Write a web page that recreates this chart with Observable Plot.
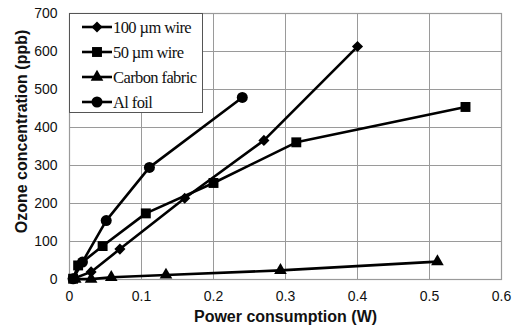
<!DOCTYPE html>
<html>
<head>
<meta charset="utf-8">
<script src="https://cdn.jsdelivr.net/npm/d3@7"></script>
<script src="https://cdn.jsdelivr.net/npm/@observablehq/plot@0.6"></script>
<style>
  html, body { margin: 0; padding: 0; background: #fff; }
  #wrap { position: relative; width: 521px; height: 331px; }
  #legend { position: absolute; left: 69px; top: 13px; }
</style>
</head>
<body>
<div id="wrap"></div>
<script>
// ---- data ----
const seriesNames = ["100 \u00b5m wire", "50 \u00b5m wire", "Carbon fabric", "Al foil"];
const seriesSymbols = ["diamond2", "square", "triangle", "circle"];

const wire100X = [0.005, 0.03, 0.07, 0.16, 0.27, 0.40];
const wire100Y = [2, 20, 80, 214, 366, 613];

const wire50X = [0.005, 0.012, 0.046, 0.106, 0.20, 0.315, 0.55];
const wire50Y = [2, 37, 88, 174, 254, 361, 454];

const carbonX = [0.008, 0.03, 0.058, 0.134, 0.293, 0.511];
const carbonY = [1, 1, 6, 12, 24, 47];

const alFoilX = [0.005, 0.018, 0.051, 0.111, 0.24];
const alFoilY = [2, 46, 155, 295, 479];

const xTicks = [0, 0.1, 0.2, 0.3, 0.4, 0.5, 0.6];
const xTickLabels = ["0", "0.1", "0.2", "0.3", "0.4", "0.5", "0.6"];
const yTicks = [0, 100, 200, 300, 400, 500, 600, 700];
const yTickLabels = ["0", "100", "200", "300", "400", "500", "600", "700"];

const xLabel = "Power consumption (W)";
const yLabel = "Ozone concentration (ppb)";

// ---- build table ----
const allX = [wire100X, wire50X, carbonX, alFoilX];
const allY = [wire100Y, wire50Y, carbonY, alFoilY];
const rows = [];
seriesNames.forEach((s, i) => {
  allX[i].forEach((x, j) => rows.push({series: s, sym: seriesSymbols[i], x, y: allY[i][j]}));
});

const symR = {"diamond2": 5.0, "square": 5.6, "triangle": 4.7, "circle": 5.5};
const gridColor = "#9a9a9a";

const chart = Plot.plot({
  width: 521,
  height: 331,
  marginLeft: 69,
  marginRight: 20,
  marginTop: 13,
  marginBottom: 52,
  style: {fontFamily: "'Liberation Sans', Arial, sans-serif", fontSize: "14px", color: "#111", background: "#fff"},
  x: {domain: [0, 0.6]},
  y: {domain: [0, 700]},
  symbol: {domain: seriesSymbols, range: seriesSymbols},
  marks: [
    Plot.gridX(xTicks, {stroke: gridColor, strokeOpacity: 1, strokeWidth: 1}),
    Plot.gridY(yTicks, {stroke: gridColor, strokeOpacity: 1, strokeWidth: 1}),
    Plot.frame({stroke: gridColor, strokeWidth: 1.2}),
    Plot.axisX({ticks: xTicks, tickSize: 0, tickPadding: 12, tickFormat: (d, i) => xTickLabels[i], label: null}),
    Plot.axisY({ticks: yTicks, tickSize: 0, tickPadding: 12, tickFormat: (d, i) => yTickLabels[i], label: null}),
    Plot.line(rows, {x: "x", y: "y", z: "series", stroke: "#000", strokeWidth: 2.6}),
    ...seriesSymbols.map(sym => Plot.dot(rows.filter(r => r.sym === sym), {x: "x", y: "y", symbol: "sym", fill: "#000", stroke: "none", r: symR[sym]})),
    Plot.text([xLabel], {frameAnchor: "bottom", textAnchor: "middle", dy: 42, fontWeight: "bold", fontSize: 16}),
    Plot.text([yLabel], {frameAnchor: "left", textAnchor: "middle", dx: -48, dy: -15, rotate: -90, fontWeight: "bold", fontSize: 16})
  ]
});
document.getElementById("wrap").appendChild(chart);

// ---- legend (inside plot, top-left) ----
const lw = 134, lh = 100;
const leg = d3.select("#wrap").append("svg")
  .attr("id", "legend").attr("width", lw).attr("height", lh);
leg.append("rect").attr("x", 0.5).attr("y", 0.5).attr("width", lw - 1).attr("height", lh - 1)
  .attr("fill", "#fff").attr("stroke", "#555").attr("stroke-width", 1);
const symMap = {"diamond2": d3.symbolDiamond2, "square": d3.symbolSquare, "triangle": d3.symbolTriangle, "circle": d3.symbolCircle};
seriesNames.forEach((s, i) => {
  const cy = 14 + i * 25;
  const g = leg.append("g").attr("transform", `translate(0,${cy})`);
  g.append("line").attr("x1", 13).attr("x2", 43).attr("y1", 0).attr("y2", 0)
    .attr("stroke", "#000").attr("stroke-width", 2.6);
  const sym = seriesSymbols[i];
  const r = symR[sym];
  g.append("path").attr("transform", "translate(28,0)")
    .attr("d", d3.symbol(symMap[sym], Math.PI * r * r)()).attr("fill", "#000");
  g.append("text").attr("x", 44).attr("y", 0).attr("dy", "0.35em")
    .attr("font-family", "'Liberation Serif', 'Times New Roman', serif")
    .attr("font-size", 16.5).attr("letter-spacing", "-0.6px").attr("fill", "#111").text(s);
});
</script>
</body>
</html>
